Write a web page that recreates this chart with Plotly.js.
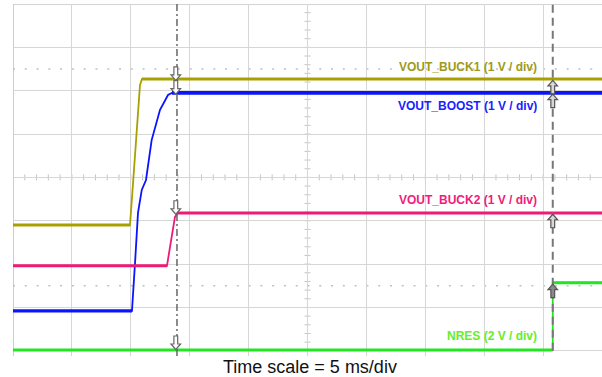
<!DOCTYPE html>
<html>
<head>
<meta charset="utf-8">
<script src="https://cdn.plot.ly/plotly-3.0.1.min.js"></script>
<style>html,body{margin:0;padding:0;background:#fff;}#chart{width:602px;height:377px;}</style>
</head>
<body>
<div id="chart"></div>
<script>
// Time in ms (5 ms/div, 10 divisions), level in screen divisions (8 divisions)
const buck1T = [0, 9.93, 10.21, 10.78, 10.95, 50];
const buck1Y = [2.90, 2.90, 3.94, 6.13, 6.27, 6.27];

const boostT = [0, 10.10, 10.36, 10.61, 10.93, 11.29, 11.77, 12.48, 13.16, 13.50, 50];
const boostY = [0.92, 0.92, 2.03, 3.18, 3.71, 3.94, 4.86, 5.56, 5.90, 5.95, 5.95];

const buck2T = [0, 13.07, 13.47, 13.75, 14.01, 50];
const buck2Y = [1.96, 1.96, 2.63, 3.09, 3.18, 3.18];

const nresT = [0, 45.82, 45.82, 50];
const nresY = [0.02, 0.02, 1.57, 1.57];

const labels = ["VOUT_BUCK1 (1 V / div)", "VOUT_BOOST (1 V / div)", "VOUT_BUCK2 (1 V / div)", "NRES (2 V / div)"];
const labelY = [6.55, 5.65, 3.48, 0.33];
const cursorT = [13.92, 45.82];
const timeLabel = "Time scale = 5 ms/div";

const traceColors = ['#a8a000', '#0a14ff', '#ee1a78', '#22e622'];
const labelColors = ['#a09a1c', '#1a22ff', '#f0207a', '#66ee2a'];

const PXX = 589 / 50;          // px per ms
const PXY = 352 / 8.12;        // px per division

const series = [[buck1T, buck1Y], [boostT, boostY], [buck2T, buck2Y], [nresT, nresY]];
const traces = [];
series.forEach((s, i) => {
  const n = s[0].length;
  // full waveform (edges drawn thin)
  traces.push({x: s[0], y: s[1], type: 'scatter', mode: 'lines',
    line: {color: traceColors[i], width: 1.8}, hoverinfo: 'skip', showlegend: false});
  // settled low and high levels drawn thicker
  traces.push({x: s[0].slice(0, 2), y: s[1].slice(0, 2), type: 'scatter', mode: 'lines',
    line: {color: traceColors[i], width: i === 1 ? 3.4 : 3}, hoverinfo: 'skip', showlegend: false});
  traces.push({x: s[0].slice(n - 2), y: s[1].slice(n - 2), type: 'scatter', mode: 'lines',
    line: {color: traceColors[i], width: i === 1 ? 3.6 : 3}, hoverinfo: 'skip', showlegend: false});
});

const shapes = [];
// borders
shapes.push({type: 'line', xref: 'x', yref: 'y', x0: 0, x1: 0, y0: -0.12, y1: 8, line: {color: '#bdbdbd', width: 1.5}, layer: 'below'});
shapes.push({type: 'line', xref: 'x', yref: 'y', x0: 0, x1: 50, y0: 8, y1: 8, line: {color: '#c4c4c4', width: 1.5}, layer: 'below'});
// dotted reference lines
[1.5, 6.5].forEach(v => shapes.push({type: 'line', xref: 'x', yref: 'y', x0: 0, x1: 50, y0: v, y1: v,
  line: {color: '#c0c0c0', width: 1.5, dash: '2px,9.78px'}, layer: 'below'}));
// center cross ticks
for (let t = 1; t < 50; t++) {
  const h = 3 / PXY;
  shapes.push({type: 'line', xref: 'x', yref: 'y', x0: t, x1: t, y0: 4 - h, y1: 4 + h, line: {color: '#c4c4c4', width: 1}, layer: 'below'});
}
for (let k = 1; k < 40; k++) {
  const v = k * 0.2, w = 3 / PXX;
  shapes.push({type: 'line', xref: 'x', yref: 'y', x0: 25 - w, x1: 25 + w, y0: v, y1: v, line: {color: '#c4c4c4', width: 1}, layer: 'below'});
}
// cursors
shapes.push({type: 'line', xref: 'x', yref: 'y', x0: cursorT[0], x1: cursorT[0], y0: -0.12, y1: 8,
  line: {color: '#666', width: 1.5, dash: '7px,3px,2px,3px'}, layer: 'above'});
shapes.push({type: 'line', xref: 'x', yref: 'y', x0: cursorT[1], x1: cursorT[1], y0: 0, y1: 8,
  line: {color: '#777', width: 2, dash: '8px,5px'}, layer: 'above'});

function arrow(xc, yTip, dir, fill, stroke) {
  // dir = -1 for down-pointing (body above tip), +1 for up-pointing (body below tip)
  const pts = [[0, 0], [4.8, 5.5], [1.9, 5.5], [1.9, 13.5], [-1.9, 13.5], [-1.9, 5.5], [-4.8, 5.5]];
  const s = dir < 0 ? 1 : -1;
  const path = pts.map((p, i) => (i ? 'L' : 'M') + (xc + p[0] / PXX).toFixed(4) + ',' + (yTip + s * p[1] / PXY).toFixed(4)).join(' ') + ' Z';
  return {type: 'path', xref: 'x', yref: 'y', path: path, fillcolor: fill, line: {color: stroke, width: 1.2}, layer: 'above'};
}
const highLevels = [buck1Y[buck1Y.length - 1], boostY[boostY.length - 1], buck2Y[buck2Y.length - 1]];
highLevels.forEach(v => shapes.push(arrow(cursorT[0] - 0.1, v - 0.03, -1, '#ffffff', '#666')));
shapes.push(arrow(cursorT[0] - 0.1, nresY[0] + 0.01, -1, '#ffffff', '#666'));
highLevels.forEach(v => shapes.push(arrow(cursorT[1], v - 0.03, 1, '#d8d8d8', '#555')));
shapes.push(arrow(cursorT[1], nresY[nresY.length - 1] - 0.03, 1, '#8a8a8a', '#555'));

const annotations = labels.map((t, i) => ({
  text: '<b>' + t + '</b>', x: 44.65, y: labelY[i], xref: 'x', yref: 'y',
  xanchor: 'right', yanchor: 'middle', showarrow: false,
  font: {family: 'Liberation Sans, Arial, sans-serif', size: 12, color: labelColors[i]}
}));
annotations.push({text: timeLabel, x: 0.504, y: -0.031, xref: 'paper', yref: 'paper',
  xanchor: 'center', yanchor: 'middle', showarrow: false,
  font: {family: 'Liberation Sans, Arial, sans-serif', size: 18, color: '#111'}});

const layout = {
  width: 602, height: 377,
  margin: {l: 13, r: 0, t: 4, b: 21},
  paper_bgcolor: '#fff', plot_bgcolor: '#fff',
  xaxis: {range: [0, 50], dtick: 5, tick0: 0, showgrid: true, gridcolor: '#d6d6d6', gridwidth: 1,
    zeroline: false, showticklabels: false, ticks: '', showline: false, fixedrange: true},
  yaxis: {range: [-0.12, 8], dtick: 1, tick0: 0, showgrid: true, gridcolor: '#d6d6d6', gridwidth: 1,
    zeroline: false, showticklabels: false, ticks: '', showline: false, fixedrange: true},
  shapes: shapes, annotations: annotations, showlegend: false
};

Plotly.newPlot('chart', traces, layout, {displayModeBar: false, staticPlot: true});
</script>
</body>
</html>
